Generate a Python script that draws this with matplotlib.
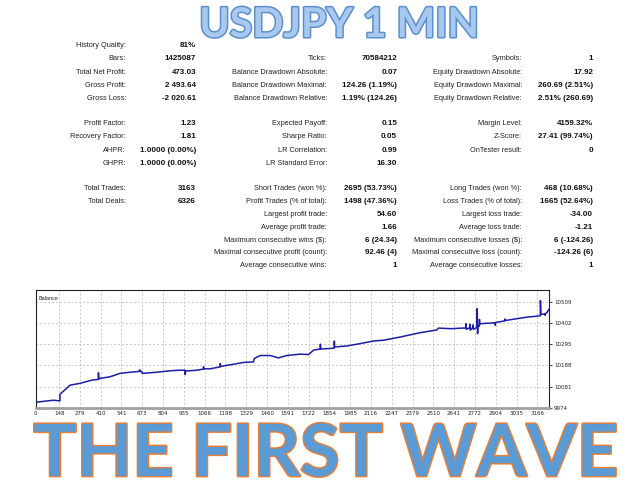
import matplotlib
matplotlib.use("Agg")
import matplotlib.pyplot as plt
import matplotlib.patheffects as pe

W, H = 640, 480

# --- report table ---
# block 1 (rows at 44 .. 97 px)
c1_lab_1 = ["History Quality:", "Bars:", "Total Net Profit:", "Gross Profit:", "Gross Loss:"]
c1_val_1 = ["81%", "1425087", "473.03", "2 493.64", "-2 020.61"]
c2_lab_1 = ["", "Ticks:", "Balance Drawdown Absolute:", "Balance Drawdown Maximal:", "Balance Drawdown Relative:"]
c2_val_1 = ["", "70584212", "0.07", "124.26 (1.19%)", "1.19% (124.26)"]
c3_lab_1 = ["", "Symbols:", "Equity Drawdown Absolute:", "Equity Drawdown Maximal:", "Equity Drawdown Relative:"]
c3_val_1 = ["", "1", "17.92", "260.69 (2.51%)", "2.51% (260.69)"]

# block 2
c1_lab_2 = ["Profit Factor:", "Recovery Factor:", "AHPR:", "GHPR:"]
c1_val_2 = ["1.23", "1.81", "1.0000 (0.00%)", "1.0000 (0.00%)"]
c2_lab_2 = ["Expected Payoff:", "Sharpe Ratio:", "LR Correlation:", "LR Standard Error:"]
c2_val_2 = ["0.15", "0.05", "0.99", "16.30"]
c3_lab_2 = ["Margin Level:", "Z-Score:", "OnTester result:", ""]
c3_val_2 = ["4159.32%", "27.41 (99.74%)", "0", ""]

# block 3
c1_lab_3 = ["Total Trades:", "Total Deals:", "", "", "", "", ""]
c1_val_3 = ["3163", "6326", "", "", "", "", ""]
c2_lab_3 = ["Short Trades (won %):", "Profit Trades (% of total):", "Largest profit trade:",
            "Average profit trade:", "Maximum consecutive wins ($):",
            "Maximal consecutive profit (count):", "Average consecutive wins:"]
c2_val_3 = ["2695 (53.73%)", "1498 (47.36%)", "54.60", "1.66", "6 (24.34)", "92.46 (4)", "1"]
c3_lab_3 = ["Long Trades (won %):", "Loss Trades (% of total):", "Largest loss trade:",
            "Average loss trade:", "Maximum consecutive losses ($):",
            "Maximal consecutive loss (count):", "Average consecutive losses:"]
c3_val_3 = ["468 (10.68%)", "1665 (52.64%)", "-34.00", "-1.21", "6 (-124.26)", "-124.26 (6)", "1"]

# --- balance curve (trade number, balance) ---
trade_no = [0, 111, 150, 153, 153, 217, 280, 354, 396, 396, 398, 406, 469, 532, 596,
            655, 656, 658, 670, 672, 764, 848, 901, 943, 943, 946, 1017,
            1059, 1059, 1062, 1101, 1164, 1165, 1167, 1248, 1311, 1375, 1380, 1417,
            1480, 1532, 1585, 1670, 1722, 1754, 1796, 1797, 1799, 1848,
            1884, 1885, 1887, 1965, 2049, 2133, 2196, 2301, 2428, 2530, 2543, 2617,
            2700, 2715, 2716, 2718, 2740, 2741, 2743, 2760, 2761, 2763,
            2786, 2787, 2789, 2792, 2800, 2801, 2803, 2807, 2870, 2900, 2901, 2903,
            2960, 2961, 2963, 2996, 3101, 3164, 3185, 3186, 3189, 3196,
            3215, 3216, 3218, 3225, 3240]
balance = [10003, 10013, 10010, 10010, 10043, 10089, 10098, 10114, 10118, 10151, 10120, 10123, 10131, 10148, 10154,
           10158, 10166, 10158, 10158, 10148, 10154, 10161, 10164, 10164, 10143, 10160, 10164,
           10170, 10182, 10171, 10171, 10181, 10198, 10183, 10194, 10203, 10206, 10223, 10238,
           10238, 10226, 10238, 10245, 10243, 10265, 10271, 10295, 10271, 10273,
           10275, 10311, 10281, 10286, 10298, 10311, 10315, 10331, 10353, 10366, 10376, 10373,
           10376, 10376, 10398, 10370, 10378, 10395, 10365, 10380, 10392, 10370,
           10380, 10474, 10348, 10390, 10385, 10420, 10395, 10398, 10401, 10403, 10390, 10404,
           10412, 10422, 10414, 10418, 10431, 10436, 10438, 10515, 10445, 10445,
           10448, 10440, 10450, 10452, 10470]

x_ticks = [0, 148, 279, 410, 541, 673, 804, 935, 1066, 1198, 1329, 1460, 1591,
           1722, 1854, 1985, 2116, 2247, 2379, 2510, 2641, 2772, 2904, 3035, 3166]
y_ticks = [9974, 10081, 10188, 10295, 10402, 10509]


def fx(px):
    return px / W


def fy(py):
    return 1 - py / H


fig = plt.figure(figsize=(6.4, 4.8), dpi=100)
fig.patch.set_facecolor("white")

lab_kw = dict(family="Liberation Sans", fontsize=5.3, color="#222222", ha="right", va="baseline")
val_kw = dict(family="Liberation Sans", fontsize=5.8, color="#111111", ha="right", va="baseline",
              weight="bold")

cols = [(126, 196), (327, 397), (522, 593)]


def draw_block(rows_y, blocks):
    for (lab_x, val_x), (labs, vals) in zip(cols, blocks):
        for y, lab, val in zip(rows_y, labs, vals):
            if lab:
                fig.text(fx(lab_x), fy(y + 3), lab, **lab_kw)
            if val:
                fig.text(fx(val_x), fy(y + 3), val, **val_kw)


draw_block([44, 57.3, 70.7, 84, 97.3],
           [(c1_lab_1, c1_val_1), (c2_lab_1, c2_val_1), (c3_lab_1, c3_val_1)])
draw_block([122, 135.3, 148.5, 161.7],
           [(c1_lab_2, c1_val_2), (c2_lab_2, c2_val_2), (c3_lab_2, c3_val_2)])
draw_block([187.5 + 12.8 * i for i in range(7)],
           [(c1_lab_3, c1_val_3), (c2_lab_3, c2_val_3), (c3_lab_3, c3_val_3)])

# titles
fig.text(fx(339), fy(37), "USDJPY 1 MIN", family="Lato", weight="bold", fontsize=29.5,
         color="#a8c8ee", ha="center", va="baseline",
         path_effects=[pe.withStroke(linewidth=2.2, foreground="#5b8fd0")])
fig.text(fx(326), fy(476), "THE FIRST WAVE", family="Lato", weight="bold", fontsize=52,
         color="#5b9bd5", ha="center", va="baseline",
         path_effects=[pe.withStroke(linewidth=2, foreground="#ed7d31")])

# balance chart
ax = fig.add_axes([fx(35.7), fy(408), (549 - 35.7) / W, (408 - 289.7) / H])
ax.plot(trade_no, balance, color="#1c1ca6", lw=1.1)
ax.set_xlim(0, 3240)
ax.set_ylim(9974, 10569)
ax.set_xticks(x_ticks)
ax.set_xticklabels([str(v) for v in x_ticks])
ax.set_yticks(y_ticks)
ax.set_yticklabels([str(v) for v in y_ticks])
ax.yaxis.tick_right()
ax.tick_params(axis="both", labelsize=4, length=2, width=0.6, pad=1.5, colors="#222222")
ax.tick_params(axis="x", length=0, pad=2.5)
ax.grid(True, color="#c8c8c8", ls=(0, (2, 2)), lw=0.7)
for side in ["left", "top", "right"]:
    ax.spines[side].set_color("#222222")
    ax.spines[side].set_linewidth(0.8)
ax.spines["bottom"].set_color("#a0a0a0")
ax.spines["bottom"].set_linewidth(2)
ax.text(0.005, 0.95, "Balance", transform=ax.transAxes, fontsize=4, color="#222222",
        ha="left", va="top", family="Liberation Sans")

fig.savefig("out.png", dpi=100, facecolor="white")
